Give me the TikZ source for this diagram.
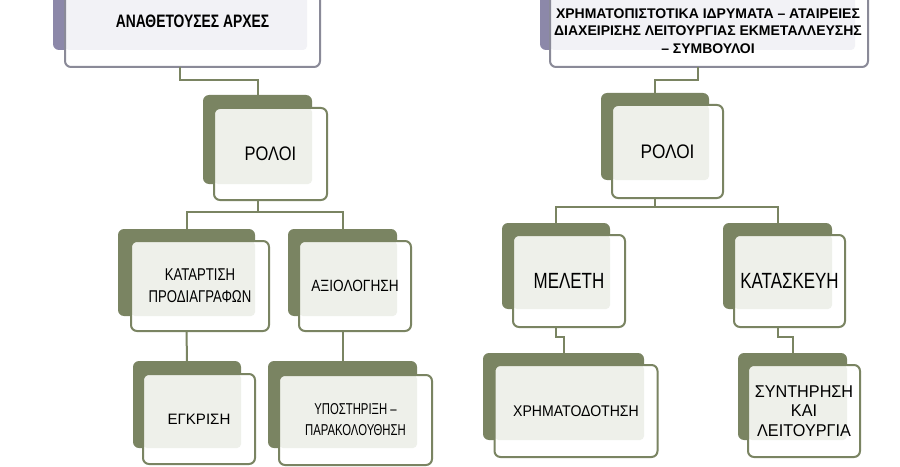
\documentclass[tikz,border=0pt]{standalone}
\usepackage{fontspec}
\setmainfont{Liberation Sans}
\definecolor{olivebk}{RGB}{122,132,98}
\definecolor{litegray}{RGB}{238,240,234}
\definecolor{purplebk}{RGB}{140,136,169}
\definecolor{topedge}{RGB}{138,138,152}
\definecolor{toplite}{RGB}{242,242,246}
\newcommand{\fsz}[3]{\fontsize{#1}{#2}\selectfont\addfontfeatures{FakeStretch=#3}}

\begin{document}
\begin{tikzpicture}[x=0.75pt,y=-0.75pt,
  boxsize/.style 2 args={minimum width=#1*0.75pt,minimum height=#2*0.75pt},
  back/.style={fill=olivebk,rounded corners=4.5pt,inner sep=0pt,outer sep=0pt},
  topback/.style={back,fill=purplebk},
  card/.style={draw=olivebk,fill=white,line width=1.5pt,rounded corners=4.5pt,
    inner sep=0pt,outer sep=0pt,align=center,
    path picture={\fill[litegray,rounded corners=3pt]
      (path picture bounding box.north west) rectangle (#1.south east);}},
  topcard/.style={draw=topedge,fill=white,line width=1.5pt,rounded corners=4.5pt,
    inner sep=0pt,outer sep=0pt,align=center,
    path picture={\fill[toplite,rounded corners=3pt]
      (path picture bounding box.north west) rectangle (#1.south east);}},
  link/.style={draw=olivebk,line width=1.5pt}]
  \useasboundingbox (0,0) rectangle (900,467);
  \fill[white] (0,0) rectangle (900,467);
  \clip (0,0) rectangle (900,467);

  % left tree
  \node[topback,boxsize={254}{90}] (anA-b) at (180,5) {};
  \node[topcard=anA-b,boxsize={255}{92},font=\bfseries\fsz{13.5}{16}{0.77}] (anA) at (192.5,21) {ΑΝΑΘΕΤΟΥΣΕΣ ΑΡΧΕΣ};
  \node[back,boxsize={109}{89}] (rolA-b) at (257.5,139.5) {};
  \node[card=rolA-b,boxsize={113}{92},font=\fsz{14.7}{17}{0.84}] (rolA) at (270.5,154) {ΡΟΛΟΙ};
  \node[back,boxsize={137}{87}] (kat-b) at (186.5,272.5) {};
  \node[card=kat-b,boxsize={138}{90},font=\fsz{12.8}{16.5}{0.77}] (kat) at (200,286) {ΚΑΤΑΡΤΙΣΗ\\ΠΡΟΔΙΑΓΡΑΦΩΝ};
  \node[back,boxsize={109}{87}] (axi-b) at (342.5,272.5) {};
  \node[card=axi-b,boxsize={112}{90},font=\fsz{12.2}{15}{0.84}] (axi) at (355,286) {ΑΞΙΟΛΟΓΗΣΗ};
  \node[back,boxsize={108}{87}] (egk-b) at (187,404.5) {};
  \node[card=egk-b,boxsize={112}{90},font=\fsz{11.3}{14}{1.0}] (egk) at (199,419) {ΕΓΚΡΙΣΗ};
  \node[back,boxsize={149}{87}] (ypo-b) at (342.5,404.5) {};
  \node[card=ypo-b,boxsize={153}{90},font=\fsz{11.8}{15.8}{0.72}] (ypo) at (355.5,420) {ΥΠΟΣΤΗΡΙΞΗ –\\ΠΑΡΑΚΟΛΟΥΘΗΣΗ};

  % right tree
  \node[topback,boxsize={315}{90}] (anB-b) at (697.5,5) {};
  \node[topcard=anB-b,boxsize={318}{92}] (anB) at (709,21) {};
  \node[align=center,inner sep=0pt,font=\bfseries\fsz{10.5}{13.3}{1.0}] (anB-t) at (708,31)
    {ΧΡΗΜΑΤΟΠΙΣΤΟΤΙΚΑ ΙΔΡΥΜΑΤΑ – ΑΤΑΙΡΕΙΕΣ\\ΔΙΑΧΕΙΡΙΣΗΣ ΛΕΙΤΟΥΡΓΙΑΣ ΕΚΜΕΤΑΛΛΕΥΣΗΣ\\– ΣΥΜΒΟΥΛΟΙ};
  \node[back,boxsize={108}{87}] (rolB-b) at (655,136.5) {};
  \node[card=rolB-b,boxsize={111}{93},font=\fsz{14.7}{17}{0.88}] (rolB) at (667.5,151.5) {ΡΟΛΟΙ};
  \node[back,boxsize={108}{86}] (mel-b) at (556,266) {};
  \node[card=mel-b,boxsize={112}{92},font=\fsz{16.5}{19}{0.77}] (mel) at (569,281) {ΜΕΛΕΤΗ};
  \node[back,boxsize={109}{86}] (kts-b) at (777.5,266) {};
  \node[card=kts-b,boxsize={111}{92},font=\fsz{16.5}{19}{0.77}] (kts) at (789.5,281) {ΚΑΤΑΣΚΕΥΗ};
  \node[back,boxsize={161}{87}] (xrh-b) at (563.5,396.5) {};
  \node[card=xrh-b,boxsize={163}{92},font=\fsz{11.6}{14}{0.91}] (xrh) at (576,411) {ΧΡΗΜΑΤΟΔΟΤΗΣΗ};
  \node[back,boxsize={109}{87}] (syn-b) at (792.5,396.5) {};
  \node[card=syn-b,boxsize={112}{92},font=\fsz{12.8}{14.6}{0.95}] (syn) at (804,411) {ΣΥΝΤΗΡΗΣΗ\\ΚΑΙ\\ΛΕΙΤΟΥΡΓΙΑ};

  \draw[link] (anA-b.center |- anA.south) -- ++(0,13) -| (rolA-b.north);
  \draw[link] (rolA-b.center |- rolA.south) -- ++(0,12) -| (kat-b.north);
  \draw[link] (rolA-b.center |- rolA.south) -- ++(0,12) -| (axi-b.north);
  \draw[link] (kat-b.center |- kat.south) -- (egk-b.north);
  \draw[link] (axi-b.center |- axi.south) -- (ypo-b.north);
  \draw[link] (anB-b.center |- anB.south) -- ++(0,13) -| (rolB-b.north);
  \draw[link] (rolB-b.center |- rolB.south) -- ++(0,9) -| (mel-b.north);
  \draw[link] (rolB-b.center |- rolB.south) -- ++(0,9) -| (kts-b.north);
  \draw[link] (mel-b.center |- mel.south) -- ++(0,10) -| (xrh-b.north);
  \draw[link] (kts-b.center |- kts.south) -- ++(0,10) -| (syn-b.north);
\end{tikzpicture}
\end{document}
